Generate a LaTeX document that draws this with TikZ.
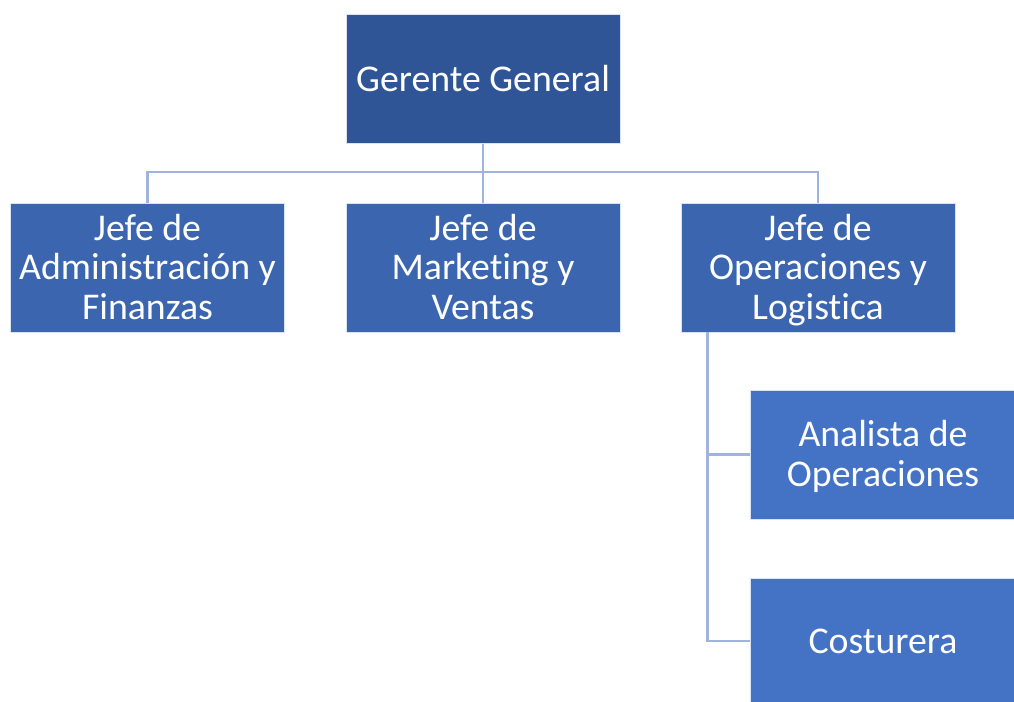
\documentclass[tikz,border=0pt]{standalone}
\usepackage{fontspec}
\setmainfont{Carlito}[Ligatures=NoCommon]
\usetikzlibrary{positioning,calc}
\definecolor{navy}{HTML}{2F5597}
\definecolor{mid}{HTML}{3B65AF}
\definecolor{sky}{HTML}{4472C4}
\definecolor{wire}{HTML}{9FB3DE}

\begin{document}
\begin{tikzpicture}[x=0.02cm,y=-0.02cm,every node/.style={font=\fontsize{21.5}{22.5}\selectfont,text=white,align=center,inner sep=0pt},box/.style={draw=white!80!sky,line width=.4pt,minimum width=274*0.02cm,minimum height=129*0.02cm,text depth=1.2pt},oneline/.style={text height=15.5pt},link/.style={wire,line width=1.4pt}]
\path[use as bounding box] (0,0) rectangle (1014,702);

\node[box,oneline,fill=navy] (gg) at (483,79) {Gerente General};
\node[box,fill=mid] (adm) at (147.5,267.5) {Jefe de\\Administración y\\Finanzas};
\node[box,fill=mid] (mkt) at (483,267.5) {Jefe de\\Marketing y\\Ventas};
\node[box,fill=mid] (ops) at (818,267.5) {Jefe de\\Operaciones y\\Logistica};
\node[box,fill=sky,minimum width=266*0.02cm] (ana) at (883,454.5) {Analista de\\Operaciones};
\node[box,oneline,fill=sky,minimum width=266*0.02cm,minimum height=126*0.02cm] (cos) at (883,641) {Costurera};

\coordinate (bar) at (483,172);
\coordinate (spine) at ($(ops.south west)+(27,0)$);
\draw[link] (gg.south) -- (mkt.north);
\draw[link] (adm.north) |- (bar) -| (ops.north);
\draw[link] (spine) |- (ana.west);
\draw[link] (spine) |- (cos.west);

\end{tikzpicture}
\end{document}
